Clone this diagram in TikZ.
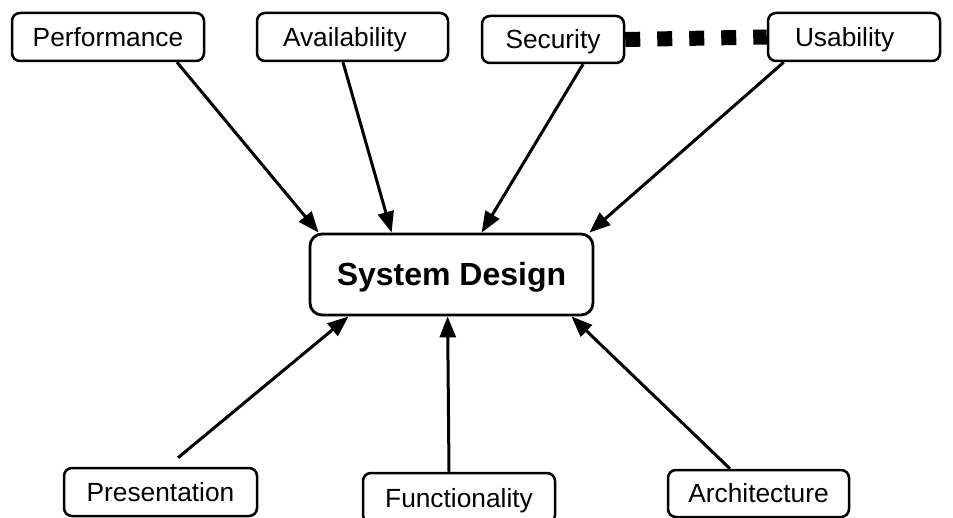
\documentclass[tikz,border=0pt]{standalone}
\usepackage{fontspec}
\setmainfont{Liberation Sans}
\usetikzlibrary{arrows.meta,calc}
\begin{document}
\begin{tikzpicture}[x=1pt,y=-1pt,
  box/.style={draw,line width=2.5pt,rounded corners=8pt,fill=white,inner sep=0pt,
    font=\fontsize{26.3}{30}\selectfont,text height=18.8pt,text depth=0pt},
  mainbox/.style={draw,line width=2.8pt,rounded corners=12pt,fill=white,inner sep=0pt,
    font=\fontsize{32}{36}\selectfont\bfseries,text height=23pt,text depth=0pt},
  arr/.style={line width=3pt,-{Triangle[length=21pt,width=16pt]}},
  dots/.style={line width=15pt,dash pattern=on 15pt off 17pt}]
\useasboundingbox (0,0) rectangle (953,518);
\node[box,minimum width=192pt,minimum height=48pt] (perf) at (108,37) {Performance};
\node[box,minimum height=48pt,text width=139pt,align=left,inner xsep=26pt] (avail) at (352.5,37) {Availability};
\node[box,minimum width=142pt,minimum height=47pt] (sec) at (553,39.5) {Security};
\node[box,minimum height=48pt,text width=118pt,align=left,inner xsep=27pt] (usab) at (854,37) {Usability};
\node[mainbox,minimum width=283pt,minimum height=81pt] (sys) at (451.5,274.5) {System Design};
\node[box,minimum width=193pt,minimum height=48pt] (pres) at (160.5,492) {Presentation};
\node[box,minimum width=192pt,minimum height=50pt] (func) at (459,498) {Functionality};
\node[box,minimum width=181pt,minimum height=47pt] (arch) at (758.5,493.5) {Architecture};
\draw[dots] (sec.east) -- (usab.west);
\draw[arr] ($(perf.south)+(69,0)$) -- ($(sys.north west)+(10,0)$);
\draw[arr] ($(avail.south)+(-9.5,0)$) -- ($(sys.north west)+(83,0)$);
\draw[arr] ($(sec.south)+(30,0)$) -- ($(sys.north west)+(173,0)$);
\draw[arr] ($(usab.south west)+(17,0)$) -- ($(sys.north east)+(-5,0)$);
\coordinate (presend) at ($(pres.north)+(17.5,-9)$);
\draw[arr] (presend) -- ($(sys.south west)+(40,0)$);
\draw[arr] ($(func.north)+(-10,0)$) -- ($(sys.south west)+(139,0)$);
\draw[arr] ($(arch.north)+(-28.5,0)$) -- ($(sys.south east)+(-23,0)$);
\end{tikzpicture}
\end{document}
